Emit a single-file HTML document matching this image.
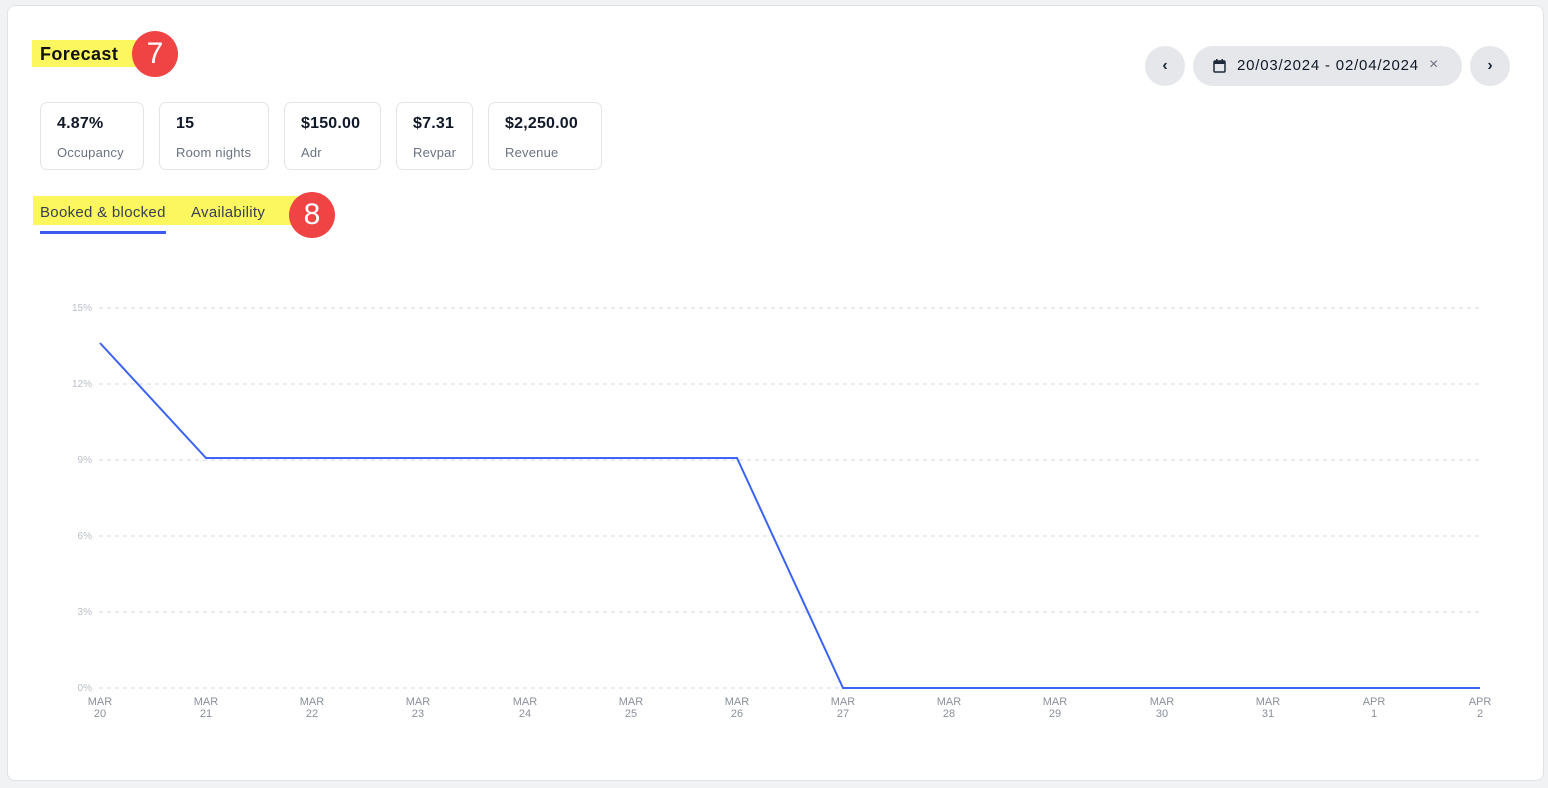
<!DOCTYPE html>
<html><head><meta charset="utf-8"><style>
body{margin:0;width:1548px;height:788px;background:#f1f2f4;font-family:"Liberation Sans",sans-serif;position:relative;overflow:hidden}
.card{position:absolute;left:7px;top:5px;width:1535px;height:774px;background:#fff;border:1px solid #dfe2e6;border-radius:8px}
.abs{position:absolute}
.hl{background:#fcf75e}
.badge{position:absolute;border-radius:50%;background:#f04444;color:#fff;text-align:center;font-size:30px}
.stat{position:absolute;top:102px;height:66px;border:1px solid #e2e5ea;border-radius:7px;background:#fff}
.stat b{position:absolute;left:16px;top:12px;font-size:16px;color:#111827;letter-spacing:0.2px}
.stat span{position:absolute;left:16px;top:42px;font-size:13px;color:#6b7280;letter-spacing:0.2px}
.btn{position:absolute;top:46px;height:40px;background:#e5e7eb;border-radius:20px;color:#1f2937}
</style></head><body>
<div class="card"></div>
<div class="abs hl" style="left:32px;top:40px;width:110px;height:27px"></div>
<div class="abs" style="left:40px;top:44px;font-size:18px;font-weight:bold;color:#111;letter-spacing:0.4px">Forecast</div>
<div class="badge" style="left:132px;top:31px;width:46px;height:46px;line-height:46px">7</div>

<div class="stat" style="left:40px;width:102px"><b>4.87%</b><span>Occupancy</span></div>
<div class="stat" style="left:159px;width:108px"><b>15</b><span>Room nights</span></div>
<div class="stat" style="left:284px;width:95px"><b>$150.00</b><span>Adr</span></div>
<div class="stat" style="left:396px;width:75px"><b>$7.31</b><span>Revpar</span></div>
<div class="stat" style="left:488px;width:112px"><b>$2,250.00</b><span>Revenue</span></div>

<div class="abs hl" style="left:33px;top:196px;width:265px;height:29px"></div>
<div class="abs" style="left:40px;top:204px;font-size:15px;color:#374151;letter-spacing:0.3px">Booked &amp; blocked</div>
<div class="abs" style="left:191px;top:204px;font-size:15px;color:#374151;letter-spacing:0.3px">Availability</div>
<div class="abs" style="left:40px;top:231px;width:126px;height:3px;background:#3b5bf0"></div>
<div class="badge" style="left:289px;top:192px;width:46px;height:46px;line-height:46px">8</div>

<div class="btn" style="left:1145px;width:40px;text-align:center;line-height:40px;font-size:16px;font-weight:bold">‹</div>
<div class="btn" style="left:1193px;width:269px">
<svg style="position:absolute;left:20px;top:13px" width="13" height="14" viewBox="0 0 13 14"><rect x="1" y="2" width="11" height="11" rx="1" fill="none" stroke="#1f2937" stroke-width="1.5"/><rect x="1" y="2" width="11" height="3" fill="#1f2937"/><rect x="3" y="0" width="1.5" height="3" fill="#1f2937"/><rect x="8.5" y="0" width="1.5" height="3" fill="#1f2937"/></svg>
<div class="abs" style="left:44px;top:11px;font-size:15px;color:#111827;letter-spacing:0.8px">20/03/2024 - 02/04/2024</div>
<div class="abs" style="left:236px;top:10px;font-size:16px;color:#6b7280">×</div></div>
<div class="btn" style="left:1470px;width:40px;text-align:center;line-height:40px;font-size:16px;font-weight:bold">›</div>

<svg class="abs" style="left:0;top:0" width="1548" height="788">
<g stroke="#cfd4dc" stroke-dasharray="4 4" stroke-width="1">
<line x1="99" x2="1482" y1="308" y2="308"/><line x1="99" x2="1482" y1="384" y2="384"/><line x1="99" x2="1482" y1="460" y2="460"/><line x1="99" x2="1482" y1="536" y2="536"/><line x1="99" x2="1482" y1="612" y2="612"/><line x1="99" x2="1482" y1="688" y2="688"/></g>
<g font-family="Liberation Sans" font-size="10" fill="#b9bec7" text-anchor="end">
<text x="92" y="311">15%</text><text x="92" y="387">12%</text><text x="92" y="463">9%</text><text x="92" y="539">6%</text><text x="92" y="615">3%</text><text x="92" y="691">0%</text></g>
<polyline fill="none" stroke="#3b63f5" stroke-width="2" points="100,343 206,458 737,458 843,688 1480,688"/>
<g font-family="Liberation Sans" font-size="11" fill="#8a909b" text-anchor="middle">
<text x="100" y="705">MAR</text><text x="100" y="717">20</text>
<text x="206" y="705">MAR</text><text x="206" y="717">21</text>
<text x="312" y="705">MAR</text><text x="312" y="717">22</text>
<text x="418" y="705">MAR</text><text x="418" y="717">23</text>
<text x="525" y="705">MAR</text><text x="525" y="717">24</text>
<text x="631" y="705">MAR</text><text x="631" y="717">25</text>
<text x="737" y="705">MAR</text><text x="737" y="717">26</text>
<text x="843" y="705">MAR</text><text x="843" y="717">27</text>
<text x="949" y="705">MAR</text><text x="949" y="717">28</text>
<text x="1055" y="705">MAR</text><text x="1055" y="717">29</text>
<text x="1162" y="705">MAR</text><text x="1162" y="717">30</text>
<text x="1268" y="705">MAR</text><text x="1268" y="717">31</text>
<text x="1374" y="705">APR</text><text x="1374" y="717">1</text>
<text x="1480" y="705">APR</text><text x="1480" y="717">2</text></g>
</svg>
</body></html>
